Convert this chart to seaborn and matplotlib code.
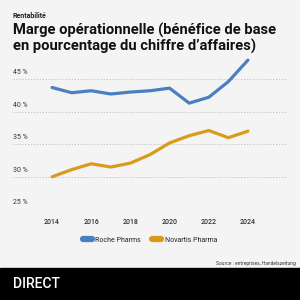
import pandas as pd
import numpy as np
import matplotlib.pyplot as plt
import seaborn as sns
from matplotlib.patches import Rectangle

sns.set_theme(style="white")
plt.rcParams['font.family'] = ['Roboto', 'DejaVu Sans']

years = list(range(2014, 2025))
roche = [43.7, 42.9, 43.2, 42.7, 43.0, 43.2, 43.6, 41.3, 42.2, 44.6, 47.9]
novartis = [30.0, 31.1, 32.0, 31.5, 32.1, 33.4, 35.2, 36.3, 37.1, 36.0, 37.0]
series_names = ['Roche Pharms', 'Novartis Pharma']
y_ticks = [25, 30, 35, 40, 45]
x_ticks = [2014, 2016, 2018, 2020, 2022, 2024]

df = pd.DataFrame({
    'year': years * 2,
    'value': roche + novartis,
    'series': [series_names[0]] * len(years) + [series_names[1]] * len(years),
})

bg = '#f4f4f4'
palette = {series_names[0]: '#4a80c2', series_names[1]: '#d89b1c'}

fig = plt.figure(figsize=(3, 3), dpi=100, facecolor=bg)
ax = fig.add_axes([0.043, 0.302, 0.914, 0.515])
ax.set_facecolor(bg)

sns.lineplot(data=df, x='year', y='value', hue='series', palette=palette,
             linewidth=2.3, ax=ax, legend=False)

ax.set_xlim(2012, 2026)
ax.set_ylim(25, 48.7)
ax.set_yticks(y_ticks)
ax.set_xticks(x_ticks)
ax.set_xticklabels([str(x) for x in x_ticks], fontsize=5, color='#333333', fontweight='medium')
ax.tick_params(axis='x', length=0, pad=6)
ax.tick_params(axis='y', length=0, labelleft=False)
ax.grid(axis='y', linestyle=(0, (1.5, 2)), color='#bbbbbb', linewidth=0.6)
ax.set_axisbelow(True)
for s in ax.spines.values():
    s.set_visible(False)
ax.set_xlabel('')
ax.set_ylabel('')

for t in y_ticks:
    ax.text(2012.02, t + 0.45, f'{t} %', fontsize=5, color='#333333',
            ha='left', va='bottom')

# titles
fig.text(0.043, 0.948, 'Rentabilité', fontsize=5, fontweight='bold', color='#222222', va='center')
fig.text(0.043, 0.872, 'Marge opérationnelle (bénéfice de base\nen pourcentage du chiffre d\u2019affaires)',
         fontsize=10.6, fontweight='bold', color='#111111', va='center', linespacing=1.08)

# legend
handles = [plt.Line2D([0], [0], color=palette[n], linewidth=4.5, solid_capstyle='round') for n in series_names]
fig.legend(handles, series_names, loc='center', bbox_to_anchor=(0.5, 0.2), ncol=2,
           frameon=False, fontsize=5, handlelength=1.3, handletextpad=0.5, columnspacing=1.6)

fig.text(0.985, 0.122, 'Source : entreprises, Handelszeitung', fontsize=3.5, color='#333333', ha='right', va='center')

# footer band
fig.add_artist(Rectangle((0, 0), 1, 0.107, transform=fig.transFigure, color='black', zorder=0))
fig.text(0.043, 0.053, 'DIRECT', fontsize=10, color='white', va='center', fontweight='medium')

fig.savefig('out.png', dpi=100, facecolor=bg)
